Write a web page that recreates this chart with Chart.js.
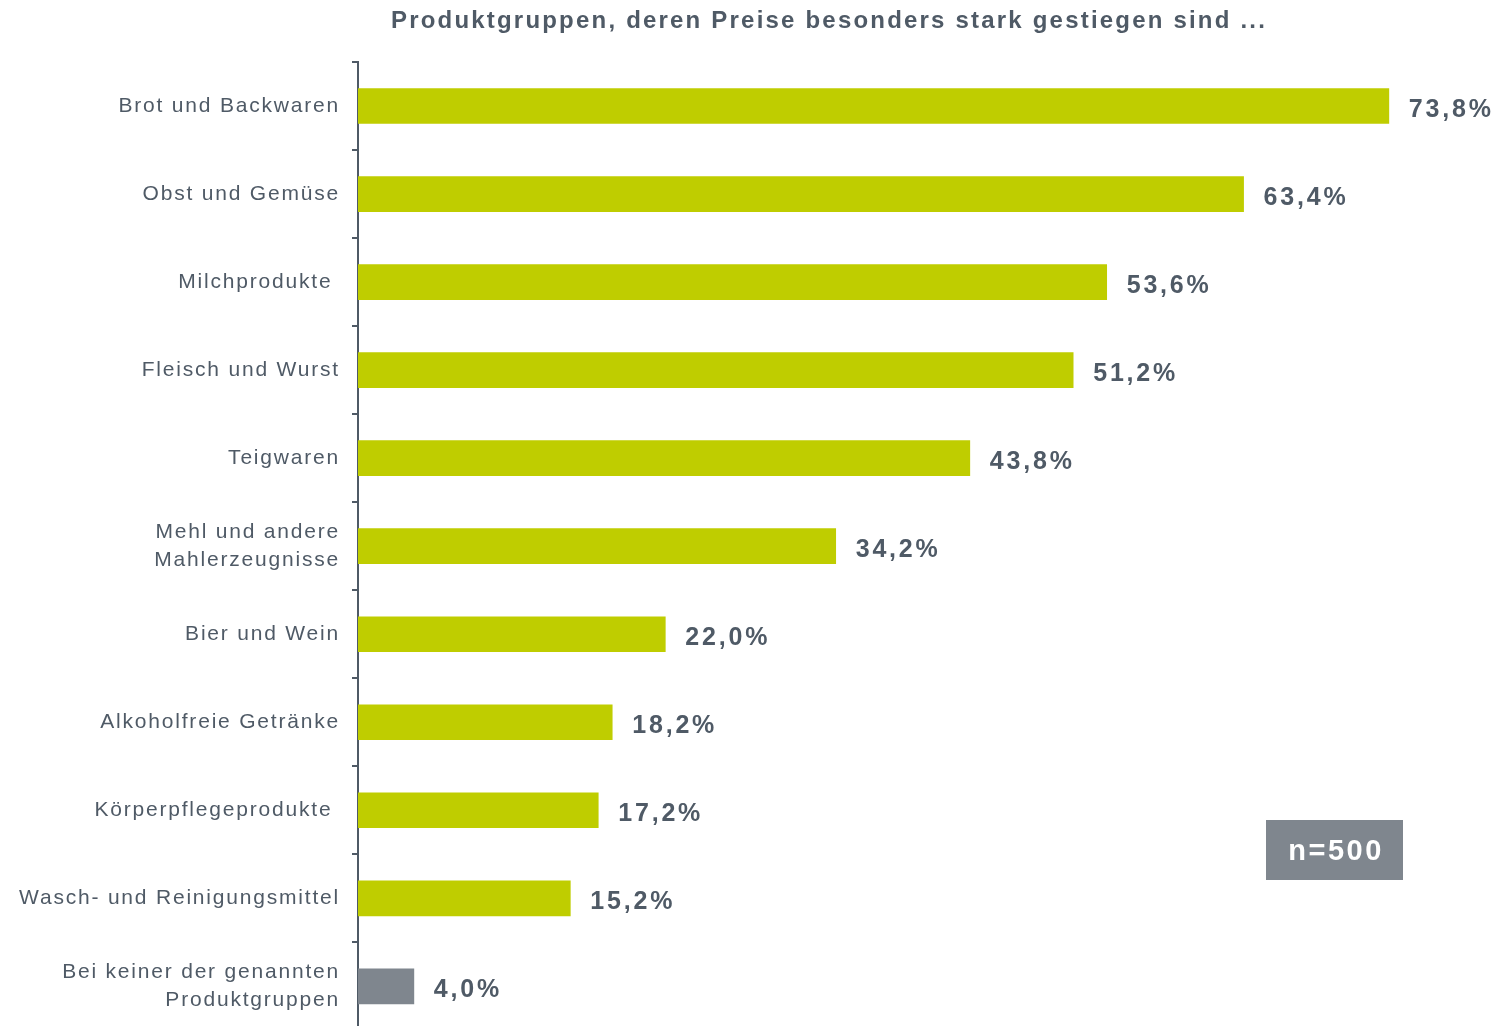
<!DOCTYPE html>
<html>
<head>
<meta charset="utf-8">
<script src="https://cdn.jsdelivr.net/npm/chart.js@4"></script>
<style>
  body { margin: 0; background: #fff; overflow: hidden; }
  #wrap { width: 1502px; height: 1056px; }
</style>
</head>
<body>
<div id="wrap"><canvas id="preise" width="1502" height="1056"></canvas></div>
<script>
// data
const categories = [
  'Brot und Backwaren',
  'Obst und Gemüse',
  'Milchprodukte ',
  'Fleisch und Wurst',
  'Teigwaren',
  ['Mehl und andere', 'Mahlerzeugnisse'],
  'Bier und Wein',
  'Alkoholfreie Getränke',
  'Körperpflegeprodukte ',
  'Wasch- und Reinigungsmittel',
  ['Bei keiner der genannten', 'Produktgruppen']
];
const values = [73.8, 63.4, 53.6, 51.2, 43.8, 34.2, 22.0, 18.2, 17.2, 15.2, 4.0];
const titleText = 'Produktgruppen, deren Preise besonders stark gestiegen sind ...';
const sampleText = 'n=500';

const green = '#bfcd00';
const grey = '#7f868e';
const textColor = '#4f5a66';

var barColors = values.map(function (v, i) {
  return i === values.length - 1 ? grey : green;
});

// letter spacing for the axis labels
const spacingPlugin = {
  id: 'spacing',
  beforeDraw: function (chart) {
    chart.ctx.letterSpacing = '1.8px';
  }
};

// title, value labels and the n=500 box
const extrasPlugin = {
  id: 'extras',
  afterDatasetsDraw: function (chart) {
    const ctx = chart.ctx;
    const meta = chart.getDatasetMeta(0);

    ctx.save();
    ctx.fillStyle = textColor;
    ctx.font = 'bold 25px "Liberation Sans", Arial, sans-serif';
    ctx.letterSpacing = '2.8px';
    ctx.textAlign = 'left';
    ctx.textBaseline = 'middle';
    meta.data.forEach(function (bar, i) {
      const txt = values[i].toFixed(1).replace('.', ',') + '%';
      ctx.fillText(txt, bar.x + 20, bar.y + 4);
    });

    // title
    ctx.font = 'bold 24px "Liberation Sans", Arial, sans-serif';
    ctx.letterSpacing = '2.2px';
    ctx.textAlign = 'center';
    ctx.fillText(titleText, 829, 21);

    // sample size box
    ctx.fillStyle = grey;
    ctx.fillRect(1266, 820, 137, 60);
    ctx.fillStyle = '#ffffff';
    ctx.font = 'bold 29px "Liberation Sans", Arial, sans-serif';
    ctx.letterSpacing = '2.5px';
    ctx.fillText(sampleText, 1336, 852);
    ctx.restore();
  }
};

var ctx = document.getElementById('preise').getContext('2d');
var barChart = new Chart(ctx, {
  type: 'bar',
  data: {
    labels: categories,
    datasets: [{
      data: values,
      backgroundColor: barColors,
      borderWidth: 0,
      barThickness: 35
    }]
  },
  options: {
    indexAxis: 'y',
    responsive: false,
    animation: false,
    layout: {
      padding: { top: 62, right: 0, bottom: 0, left: 0 }
    },
    plugins: {
      legend: { display: false },
      tooltip: { enabled: false },
      title: { display: false }
    },
    scales: {
      x: {
        display: false,
        min: 0,
        max: 81.9
      },
      y: {
        offset: true,
        grid: {
          offset: true,
          drawOnChartArea: false,
          drawTicks: true,
          tickLength: 6,
          color: textColor,
          lineWidth: 2
        },
        border: {
          display: true,
          color: textColor,
          width: 2
        },
        ticks: {
          color: textColor,
          padding: 12,
          font: {
            family: '"Liberation Sans", Arial, sans-serif',
            size: 21,
            lineHeight: 1.3
          }
        },
        afterFit: function (scale) {
          scale.width = 358;
        }
      }
    }
  },
  plugins: [spacingPlugin, extrasPlugin]
});
</script>
</body>
</html>
